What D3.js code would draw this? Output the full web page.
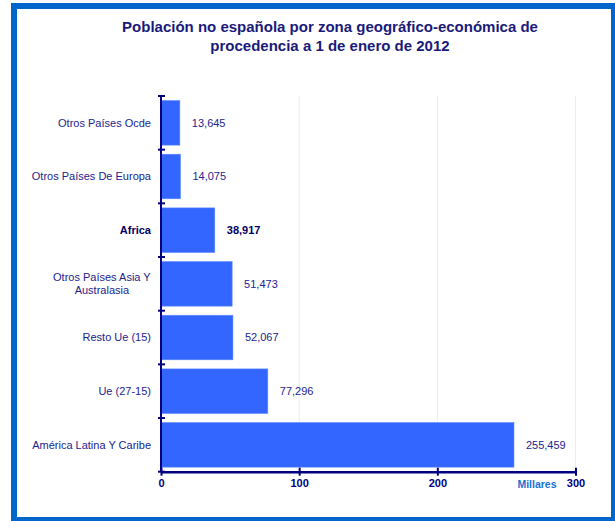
<!DOCTYPE html>
<html><head><meta charset="utf-8">
<script src="https://cdn.jsdelivr.net/npm/d3@7"></script>
<style>body{margin:0;background:#fff;}svg{display:block;font-family:"Liberation Sans",Arial,sans-serif;}</style>
</head><body>
<script>
const categories = ["Otros Países Ocde","Otros Países De Europa","Africa","Otros Países Asia Y|Australasia","Resto Ue (15)","Ue (27-15)","América Latina Y Caribe"];
const values = [13.645,14.075,38.917,51.473,52.067,77.296,255.459];
const valueLabels = ["13,645","14,075","38,917","51,473","52,067","77,296","255,459"];
const highlighted = ["Africa"];
const xTicks = [0,100,200,300];
const titleLines = ["Población no española por zona geográfico-económica de","procedencia a 1 de enero de 2012"];
const unitLabel = "Millares";

const W=615,H=521;
const svg=d3.select("body").append("svg").attr("width",W).attr("height",H);
svg.append("rect").attr("width",W).attr("height",H).attr("fill","#fff");

const x=d3.scaleLinear().domain([0,300]).range([161,575.5]);
const y=d3.scaleBand().domain(categories).range([96,471.7]).paddingInner(0.17).paddingOuter(0.085);
const step=y.step();

// gridlines
svg.append("g").selectAll("line").data(xTicks.filter(d=>d>0)).join("line")
 .attr("x1",d=>x(d)).attr("x2",d=>x(d)).attr("y1",96).attr("y2",471.7)
 .attr("stroke","#ececec").attr("stroke-width",1);

// bars
svg.append("g").selectAll("rect").data(categories).join("rect")
 .attr("x",x(0)).attr("y",d=>y(d)).attr("height",y.bandwidth())
 .attr("width",(d,i)=>x(values[i])-x(0))
 .attr("fill","#3366ff").attr("stroke","#5c85ff").attr("stroke-width",0.6);

// value labels
svg.append("g").selectAll("text").data(categories).join("text")
 .attr("x",(d,i)=>x(values[i])+12).attr("y",d=>y(d)+y.bandwidth()/2)
 .attr("dy","0.35em").attr("font-size",11)
 .attr("font-weight",d=>highlighted.includes(d)?"bold":"normal")
 .attr("fill",d=>highlighted.includes(d)?"#000066":"#23238e")
 .text((d,i)=>valueLabels[i]);

// category labels
const cg=svg.append("g");
categories.forEach(c=>{
  const lines=c.split("|");
  const cy=y(c)+y.bandwidth()/2;
  const bold=highlighted.includes(c);
  if(lines.length===1){
    cg.append("text").attr("x",151).attr("y",cy).attr("dy","0.35em").attr("text-anchor","end")
      .attr("font-size",11).attr("font-weight",bold?"bold":"normal").attr("fill",bold?"#000066":"#23238e").text(c);
  } else {
    const t=cg.append("text").attr("font-size",11).attr("fill","#23238e").attr("text-anchor","middle");
    lines.forEach((l,k)=>t.append("tspan").attr("x",0).attr("y",cy+(k-(lines.length-1)/2)*13).attr("dy","0.35em").text(l));
    const bb=t.node().getBBox();
    t.attr("transform",`translate(${151-bb.width/2},0)`);
  }
});

// y axis
const yAx=svg.append("g");
yAx.append("line").attr("x1",161).attr("x2",161).attr("y1",96).attr("y2",471.7).attr("stroke","#000080").attr("stroke-width",2);
const bounds=d3.range(categories.length+1).map(i=>96+i*step);
yAx.selectAll("line.t").data(bounds).join("line").attr("class","t")
 .attr("x1",158).attr("x2",165).attr("y1",d=>d).attr("y2",d=>d).attr("stroke","#000080").attr("stroke-width",2);

// x axis
const xAxis=d3.axisBottom(x).tickValues(xTicks).tickSize(0).tickPadding(8).tickFormat(d3.format("d"));
const xg=svg.append("g").attr("transform","translate(0,471.7)").call(xAxis);
xg.select(".domain").attr("stroke","#000080").attr("stroke-width",2.5);
xg.selectAll("text").attr("font-size",11).attr("font-weight","bold").attr("fill","#000080").attr("font-family","Liberation Sans, Arial, sans-serif");
xg.selectAll(".tick").append("line").attr("y1",-4).attr("y2",4).attr("stroke","#000080").attr("stroke-width",2);

svg.append("text").attr("x",537).attr("y",484).attr("dy","0.35em").attr("text-anchor","middle")
 .attr("font-size",10.5).attr("font-weight","bold").attr("fill","#1a6fd0").text(unitLabel);

// title
svg.append("g").selectAll("text").data(titleLines).join("text")
 .attr("x",330).attr("y",(d,i)=>32+i*19).attr("text-anchor","middle")
 .attr("font-size",15).attr("font-weight","bold").attr("fill","#1a1a7a").text(d=>d);

// frame
svg.append("rect").attr("x",14).attr("y",6).attr("width",600).attr("height",514)
 .attr("fill","none").attr("stroke","#0066cc").attr("stroke-width",6);
</script>
</body></html>
